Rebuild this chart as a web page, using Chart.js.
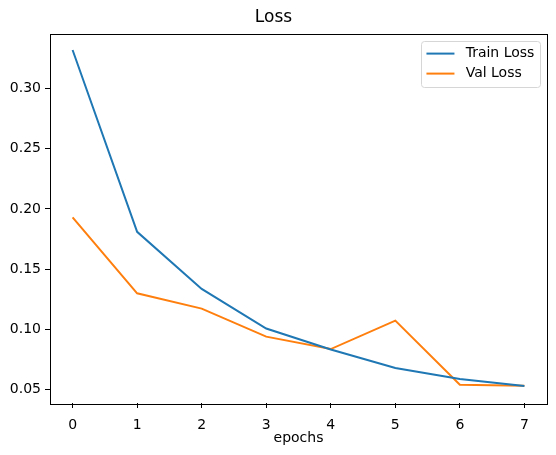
<!DOCTYPE html>
<html>
<head>
<meta charset="utf-8">
<script src="https://cdn.jsdelivr.net/npm/chart.js@4.4.0/dist/chart.umd.min.js"></script>
<style>
html,body{margin:0;padding:0;background:#fff;}
#wrap{width:556px;height:455px;position:relative;}
</style>
</head>
<body>
<div id="wrap"><canvas id="c" width="556" height="455"></canvas></div>
<script>
const epochs = [0, 1, 2, 3, 4, 5, 6, 7];
const trainLoss = [0.332, 0.181, 0.1336, 0.1007, 0.0833, 0.0679, 0.0588, 0.0530];
const valLoss = [0.193, 0.130, 0.1173, 0.0940, 0.0837, 0.1073, 0.0541, 0.0533];
const yTicks = [0.05, 0.10, 0.15, 0.20, 0.25, 0.30];
const xTicks = [0, 1, 2, 3, 4, 5, 6, 7];

const FONT = 'DejaVu Sans';

const frame = {
  id: 'frame',
  afterDatasetsDraw(chart) {
    const a = chart.chartArea, ctx = chart.ctx;
    ctx.save();
    ctx.strokeStyle = '#000';
    ctx.lineWidth = 1;
    ctx.strokeRect(Math.round(a.left) + 0.5, Math.round(a.top) + 0.5,
      Math.round(a.right - a.left), Math.round(a.bottom - a.top));
    ctx.restore();
  }
};

const mplLegend = {
  id: 'mplLegend',
  afterDraw(chart) {
    const a = chart.chartArea, ctx = chart.ctx;
    const fs = 14;
    ctx.save();
    ctx.font = fs + 'px ' + FONT;
    const ds = chart.data.datasets;
    let tw = 0;
    ds.forEach(d => { tw = Math.max(tw, ctx.measureText(d.label).width); });
    const pad = 5.6, hl = 28, htp = 11.2, rowH = 13, sp = 7;
    const w = pad * 2 + hl + htp + tw;
    const h = pad * 2 + ds.length * rowH + (ds.length - 1) * sp + 2;
    const right = a.right - 7, top = a.top + 7;
    const left = right - w;
    ctx.fillStyle = 'rgba(255,255,255,0.8)';
    ctx.strokeStyle = '#d6d6d6';
    ctx.lineWidth = 1;
    ctx.beginPath();
    ctx.roundRect(Math.round(left) + 0.5, Math.round(top) + 0.5, Math.round(w), Math.round(h), 3);
    ctx.fill();
    ctx.stroke();
    ds.forEach((d, i) => {
      const cy = top + pad + 1 + rowH / 2 + i * (rowH + sp);
      ctx.strokeStyle = d.borderColor;
      ctx.lineWidth = 2;
      ctx.beginPath();
      ctx.moveTo(left + pad, cy);
      ctx.lineTo(left + pad + hl, cy);
      ctx.stroke();
      ctx.fillStyle = '#000';
      ctx.textBaseline = 'middle';
      ctx.textAlign = 'left';
      ctx.fillText(d.label, left + pad + hl + htp, cy);
    });
    ctx.restore();
  }
};

new Chart(document.getElementById('c'), {
  type: 'line',
  data: {
    datasets: [
      { label: 'Train Loss', data: epochs.map((e, i) => ({ x: e, y: trainLoss[i] })),
        borderColor: '#1f77b4', backgroundColor: '#1f77b4', borderWidth: 2, pointRadius: 0, tension: 0 },
      { label: 'Val Loss', data: epochs.map((e, i) => ({ x: e, y: valLoss[i] })),
        borderColor: '#ff7f0e', backgroundColor: '#ff7f0e', borderWidth: 2, pointRadius: 0, tension: 0 }
    ]
  },
  options: {
    responsive: false,
    animation: false,
    layout: { padding: { top: 0, left: 0, right: 9, bottom: 0 } },
    plugins: {
      legend: { display: false },
      tooltip: { enabled: false },
      title: {
        display: true, text: 'Loss', color: '#000',
        font: { family: FONT, size: 17, weight: 'normal' },
        padding: { top: 7.5, bottom: 5.6 }
      }
    },
    scales: {
      x: {
        type: 'linear', min: -0.35, max: 7.35,
        afterBuildTicks(s) { s.ticks = xTicks.map(v => ({ value: v })); },
        afterFit(s) { s.height = 52; },
        grid: { display: true, drawOnChartArea: false, drawTicks: true, tickLength: 5, color: '#000', tickWidth: 1 },
        border: { display: false },
        ticks: { color: '#000', font: { family: FONT, size: 14 }, padding: 9, maxRotation: 0, autoSkip: false,
          callback: v => String(v) },
        title: { display: true, text: 'epochs', color: '#000', font: { family: FONT, size: 14 }, padding: { top: 0, bottom: 8 } }
      },
      y: {
        type: 'linear', min: 0.0389, max: 0.3457,
        afterBuildTicks(s) { s.ticks = yTicks.map(v => ({ value: v })); },
        afterFit(s) { s.width = 50; },
        grid: { display: true, drawOnChartArea: false, drawTicks: true, tickLength: 5, color: '#000', tickWidth: 1 },
        border: { display: false },
        ticks: { color: '#000', font: { family: FONT, size: 14 }, padding: 4, autoSkip: false,
          callback: v => v.toFixed(2) }
      }
    }
  },
  plugins: [frame, mplLegend]
});
</script>
</body>
</html>
